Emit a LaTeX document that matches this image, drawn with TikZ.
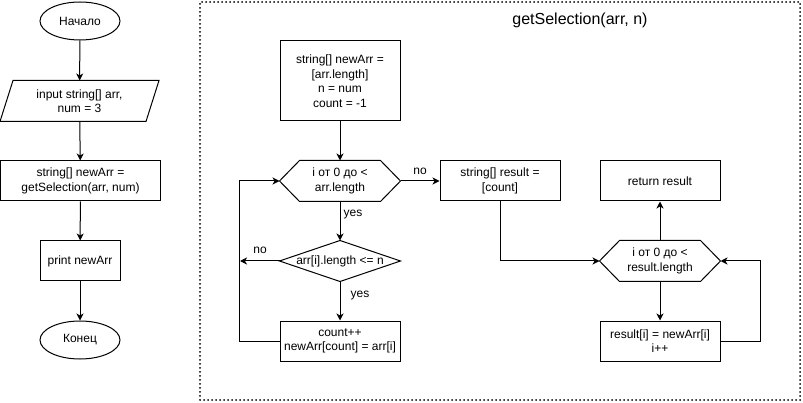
\documentclass[tikz,border=0pt]{standalone}
\usepackage{fontspec}
\setmainfont{Liberation Sans}
\usetikzlibrary{arrows.meta,shapes.geometric}

% hexagonal loop header drawn around a plain rectangular node
\newcommand\drawhex[1]{%
  \draw ([xshift=20pt]#1.north west) -- ([xshift=-20pt]#1.north east) -- (#1.east)
        -- ([xshift=-20pt]#1.south east) -- ([xshift=20pt]#1.south west) -- (#1.west) -- cycle;}

\begin{document}
\begin{tikzpicture}[x=1pt, y=-1pt, line width=1pt,
  every node/.style={font=\fontsize{12}{14.5}\selectfont, text=black},
  box/.style={draw, rectangle, minimum width=#1, minimum height=40pt, inner sep=0pt, align=center},
  box/.default=120pt,
  term/.style={draw, ellipse, minimum width=80pt, minimum height=38pt, inner sep=0pt},
  shell/.style={rectangle, minimum width=#1, minimum height=40pt, inner sep=0pt, align=center},
  shell/.default=120pt,
  flow/.style={-{Stealth[length=7pt, width=7pt, inset=2pt]}},
  lbl/.style={inner sep=0pt},
  dotframe/.style={draw, line width=2pt, dash pattern=on 0pt off 4pt, line cap=round,
                   rectangle, minimum width=600pt, minimum height=398pt, inner sep=0pt}
]
\useasboundingbox (0,0) rectangle (803,403);

% ---------- main program ----------
\node[term] (start) at (80,21) {Начало};
\node[shell=158pt] (input) at (79.5,101) {input string[] arr,\\num = 3};
\draw (input.south west) -- ([xshift=-13pt]input.south east) -- (input.north east)
      -- ([xshift=13pt]input.north west) -- cycle;
\node[box=160pt] (call) at (80.5,181) {string[] newArr =\\getSelection(arr, num)};
\node[box=80pt] (print) at (80,261) {print newArr};
\node[term] (stop) at (80,340) {Конец};

\draw[flow] (start) -- (input);
\draw[flow] (input) -- (call);
\draw[flow] (call) -- (print);
\draw[flow] (print) -- (stop);

% ---------- function getSelection ----------
\node[dotframe] (fn) at (500,201) {};
\node[font=\fontsize{16}{19}\selectfont] (title) at (580,20) {getSelection(arr, n)};

\node[box, minimum height=80pt] (init) at (340,81)
  {string[] newArr =\\{}[arr.length]\\n = num\\count = -1};
\node[shell] (loopA) at (340,181) {i от 0 до <\\arr.length};
\drawhex{loopA}
\node[shell] (cond) at (340,261) {arr[i].length <= n};
\draw (cond.north) -- (cond.east) -- (cond.south) -- (cond.west) -- cycle;
\node[box] (take) at (340,341) {count++\\newArr[count] = arr[i]};
\coordinate (skip) at (240,261);

\node[box] (result) at (500,181) {string[] result =\\{}[count]};
\node[shell] (loopB) at (660,261) {i от 0 до <\\result.length};
\drawhex{loopB}
\node[box] (ret) at (660,181) {return result};
\node[box] (copy) at (660,341) {result[i] = newArr[i]\\i++};

\draw[flow] (init) -- (loopA);
\draw[flow] (loopA) -- (cond);
\draw[flow] (cond) -- (take);
\draw[flow] (cond.west) -- (skip);
\draw[flow] (take.west) -- ++(-40,0) |- (loopA.west);
\draw[flow] (loopA.east) -- (result.west);

\draw[flow] (result.south) |- (loopB.west);
\draw[flow] (loopB.north) -- (ret.south);
\draw[flow] (loopB.south) -- (copy.north);
\draw[flow] (copy.east) -- ++(40,0) |- (loopB.east);

% branch labels
\node[lbl] (noA) at (420,171) {no};
\node[lbl] (yesA) at (353,215) {yes};
\node[lbl] (noB) at (260,250) {no};
\node[lbl] (yesB) at (360,296) {yes};
\end{tikzpicture}
\end{document}
